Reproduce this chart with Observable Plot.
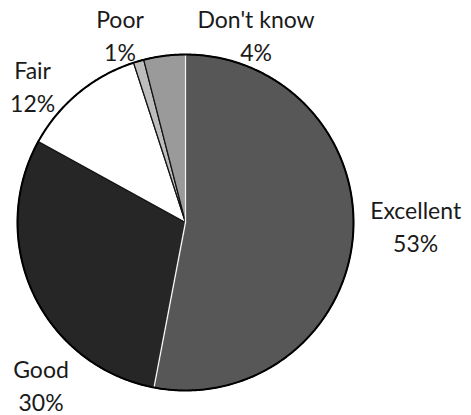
<!DOCTYPE html>
<html>
<head>
<meta charset="utf-8">
<script src="https://cdn.jsdelivr.net/npm/d3@7"></script>
<script src="https://cdn.jsdelivr.net/npm/@observablehq/plot@0.6"></script>
<style>
  html, body { margin: 0; padding: 0; background: #fff; }
  #chart svg { display: block; }
</style>
</head>
<body>
<div id="chart"></div>
<script>
const categories = ["Excellent", "Good", "Fair", "Poor", "Don't know"];
const values = [53, 30, 12, 1, 4];
const labels = ["Excellent\n53%", "Good\n30%", "Fair\n12%", "Poor\n1%", "Don't know\n4%"];
const fills = ["#575757", "#262626", "#ffffff", "#bdbdbd", "#9a9a9a"];
// label anchor positions in the pie's unit coordinates
const labelX = [1.37, -0.86, -0.91, -0.39, 0.42];
const labelY = [-0.015, -0.96, 0.82, 1.125, 1.125];

const arcs = d3.pie().sort(null).value(d => d)(values);
const slices = [];
arcs.forEach((a, i) => {
  const n = Math.max(2, Math.ceil((a.endAngle - a.startAngle) / 0.01));
  slices.push({cat: categories[i], x: 0, y: 0});
  for (let k = 0; k <= n; k++) {
    const t = a.startAngle + (a.endAngle - a.startAngle) * k / n;
    slices.push({cat: categories[i], x: Math.sin(t), y: Math.cos(t)});
  }
  slices.push({cat: categories[i], x: 0, y: 0});
});
// white edges of the two dark slices, as in the reference
const whiteEdges = [arcs[0].startAngle, arcs[0].endAngle].flatMap((t, j) => [
  {e: j, x: 0, y: 0}, {e: j, x: Math.sin(t), y: Math.cos(t)}
]);
const circle = d3.range(0, 2 * Math.PI + 0.01, 0.01).map(t => ({x: Math.sin(t), y: Math.cos(t)}));
const labelData = categories.map((c, i) => ({cat: c, text: labels[i], x: labelX[i], y: labelY[i]}));

const chart = Plot.plot({
  width: 471,
  height: 415,
  marginLeft: 17,
  marginRight: 118,
  marginTop: 54,
  marginBottom: 25,
  x: {domain: [-1, 1], axis: null},
  y: {domain: [-1, 1], axis: null},
  color: {domain: categories, range: fills},
  style: {fontFamily: "Lato, 'Open Sans', sans-serif", background: "#fff"},
  marks: [
    Plot.line(slices, {x: "x", y: "y", z: "cat", fill: "cat", stroke: "#111", strokeWidth: 1.2, curve: "linear"}),
    Plot.line(whiteEdges, {x: "x", y: "y", z: "e", stroke: "#f4f4f4", strokeWidth: 1.4}),
    Plot.line(circle, {x: "x", y: "y", stroke: "#000", strokeWidth: 2}),
    Plot.text(labelData, {x: "x", y: "y", text: "text", fontSize: 23, lineHeight: 1.45, fill: "#1a1a1a", textAnchor: "middle"})
  ]
});
document.getElementById("chart").appendChild(chart);
</script>
</body>
</html>
